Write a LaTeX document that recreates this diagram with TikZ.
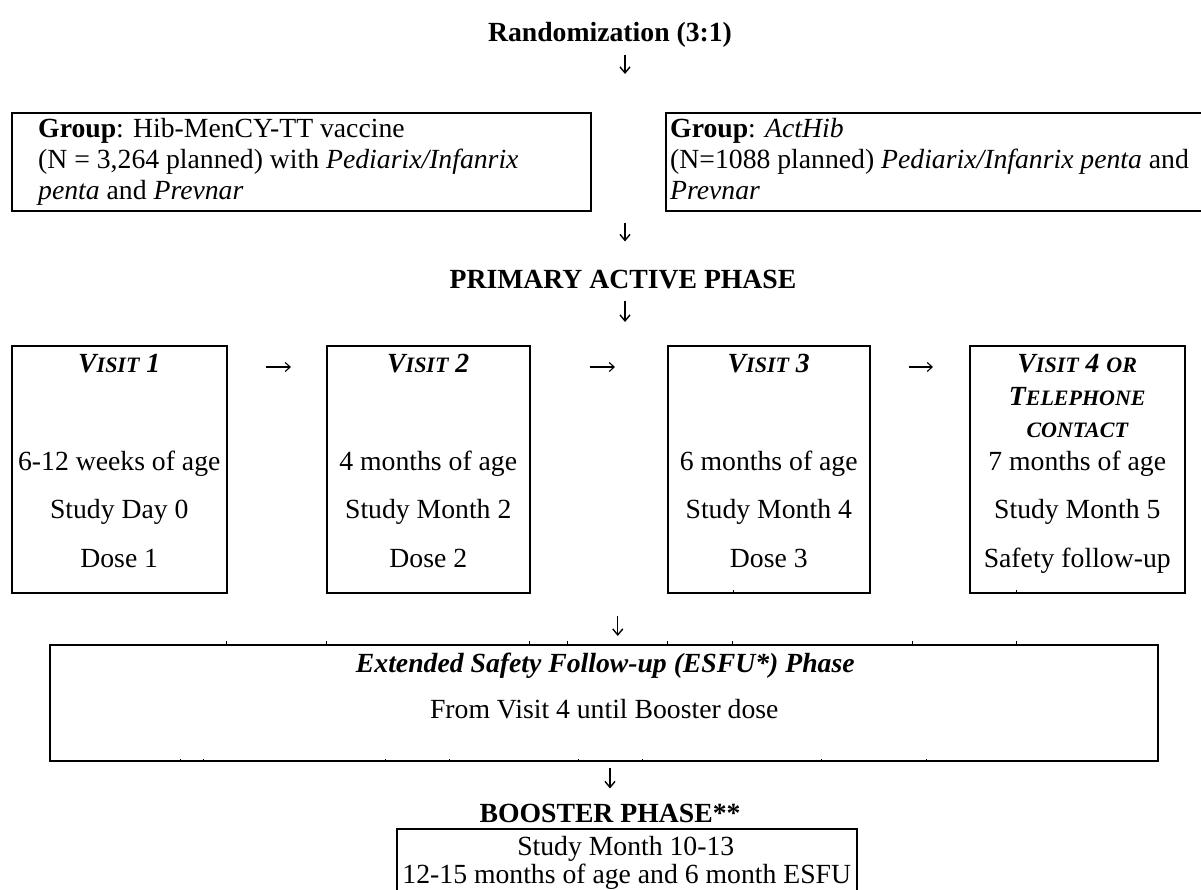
\documentclass[tikz,border=0pt]{standalone}
\usepackage{fontspec}
\setmainfont{Liberation Serif}
\usetikzlibrary{positioning,calc,arrows.meta}
\newcommand\bodysize{\fontsize{27.7}{31}\selectfont}
\newcommand\smallcap[1]{{\fontsize{22}{26}\selectfont #1}}
\tikzset{
    cellBox/.style={
        draw,
        line width=1.5pt,
        inner sep=0pt,
        anchor=north west
    },
    titleText/.style={anchor=base, inner sep=0pt, font=\bodysize\bfseries},
    headText/.style={anchor=base, inner sep=0pt, font=\bodysize\bfseries\itshape},
    lineText/.style={anchor=base, inner sep=0pt, font=\bodysize},
    groupText/.style={anchor=north west, align=left, inner sep=0pt, font=\bodysize},
    downPtr/.style={-{Straight Barb[length=6pt,width=10pt]}, line width=1.4pt},
    nextPtr/.style={-{Straight Barb[length=5pt,width=9pt]}, line width=1.1pt},
    tickMark/.style={line width=1pt}
}

\begin{document}
\begin{tikzpicture}[x=1pt, y=-1pt]
    \useasboundingbox (0,0) rectangle (1201,889);

    % 1. Randomization
    \node[titleText] (rand) at (610,41) {Randomization (3:1)};

    % 2. The two groups
    \node[cellBox, minimum width=579pt, minimum height=98pt] (grpA) at (11,112) {};
    \node[groupText] (grpAtxt) at (38,118) {\textbf{Group}: Hib-MenCY-TT vaccine\\(N = 3,264 planned) with \textit{Pediarix/Infanrix}\\\textit{penta} and \textit{Prevnar}};
    \node[cellBox, minimum width=560pt, minimum height=98pt] (grpB) at (665,112) {};
    \node[groupText] (grpBtxt) at (670,118) {\textbf{Group}: \textit{ActHib}\\(N=1088 planned) \textit{Pediarix/Infanrix penta} and\\\textit{Prevnar}};
    \draw[downPtr, shorten <=8pt, shorten >=38pt] ([xshift=15pt]rand.south) -- ([xshift=15pt]rand.south |- grpA.north);

    % 3. Primary active phase
    \node[titleText] (prim) at (623,288) {PRIMARY ACTIVE PHASE};
    \draw[downPtr, shorten <=11pt, shorten >=28pt] ([xshift=2pt]prim.north |- grpA.south) -- ([xshift=2pt]prim.north);

    % 4. Visits
    \foreach \vis/\x/\w in {v1/11/215, v2/326/203, v3/667/202, v4/969/215}
        \node[cellBox, minimum width=\w pt, minimum height=247pt] (\vis) at (\x,345) {};
    \draw[downPtr, shorten <=12pt, shorten >=23pt] ([xshift=2pt]prim.south) -- ([xshift=2pt]prim.south |- v1.north);

    \node[headText] (v1h) at ($(v1.north)+(0,27)$) {V\smallcap{ISIT} 1};
    \node[headText] (v2h) at ($(v2.north)+(0,27)$) {V\smallcap{ISIT} 2};
    \node[headText] (v3h) at ($(v3.north)+(0,27)$) {V\smallcap{ISIT} 3};
    \node[headText] (v4h) at ($(v4.north)+(0,27)$) {V\smallcap{ISIT} 4 \smallcap{OR}};
    \node[headText] (v4h2) at ($(v4.north)+(0,60)$) {T\smallcap{ELEPHONE}};
    \node[headText] (v4h3) at ($(v4.north)+(0,92)$) {\smallcap{CONTACT}};

    \foreach \vis/\a/\s/\d in {v1/6-12 weeks of age/Study Day 0/Dose 1,
                              v2/4 months of age/Study Month 2/Dose 2,
                              v3/6 months of age/Study Month 4/Dose 3,
                              v4/7 months of age/Study Month 5/Safety follow-up} {
        \node[lineText] (\vis age) at ($(\vis.north)+(0,125)$) {\a};
        \node[lineText] (\vis day) at ($(\vis.north)+(0,173)$) {\s};
        \node[lineText] (\vis dose) at ($(\vis.north)+(0,222)$) {\d};
    }

    \draw[nextPtr, shorten <=38pt, shorten >=35pt] ([yshift=-22pt]v1.north east) -- ([yshift=-22pt]v2.north west);
    \draw[nextPtr, shorten <=59pt, shorten >=52pt] ([yshift=-22pt]v2.north east) -- ([yshift=-22pt]v3.north west);
    \draw[nextPtr, shorten <=38pt, shorten >=36pt] ([yshift=-22pt]v3.north east) -- ([yshift=-22pt]v4.north west);
    \foreach \x in {733,1016}
        \draw[tickMark] (\x,0 |- v1.south) -- ++(0,-4);

    % 5. Extended safety follow-up
    \node[cellBox, minimum width=1108pt, minimum height=116pt] (esfu) at (49,644) {};
    \node[headText] (esfuh) at ($(esfu.north)+(1.5,28)$) {Extended Safety Follow-up (ESFU*) Phase};
    \node[lineText] (esfut) at ($(esfu.north)+(0.5,74)$) {From Visit 4 until Booster dose};
    \draw[downPtr, shorten <=22pt, shorten >=8pt] ([xshift=14pt]esfu.north |- v1.south) -- ([xshift=14pt]esfu.north);
    \foreach \x in {226,326,529,567,667,732,912,1016}
        \draw[tickMark] (\x,0 |- esfu.north) -- ++(0,-3);
    \foreach \x in {180,203,385,449,578,642,821,926}
        \draw[tickMark] (\x,0 |- esfu.south) -- ++(0,-3);

    % 6. Booster phase
    \node[titleText] (boost) at (610,822) {BOOSTER PHASE**};
    \node[cellBox, minimum width=460pt, minimum height=80pt] (boostbox) at (396,828) {};
    \node[lineText] (boost1) at ($(boostbox.north)+(-1,27)$) {Study Month 10-13};
    \node[lineText] (boost2) at ($(boostbox.north)+(0,55)$) {12-15 months of age and 6 month ESFU};
    \draw[downPtr, shorten <=6pt, shorten >=15pt] (boost.north |- esfu.south) -- (boost.north);
\end{tikzpicture}
\end{document}
